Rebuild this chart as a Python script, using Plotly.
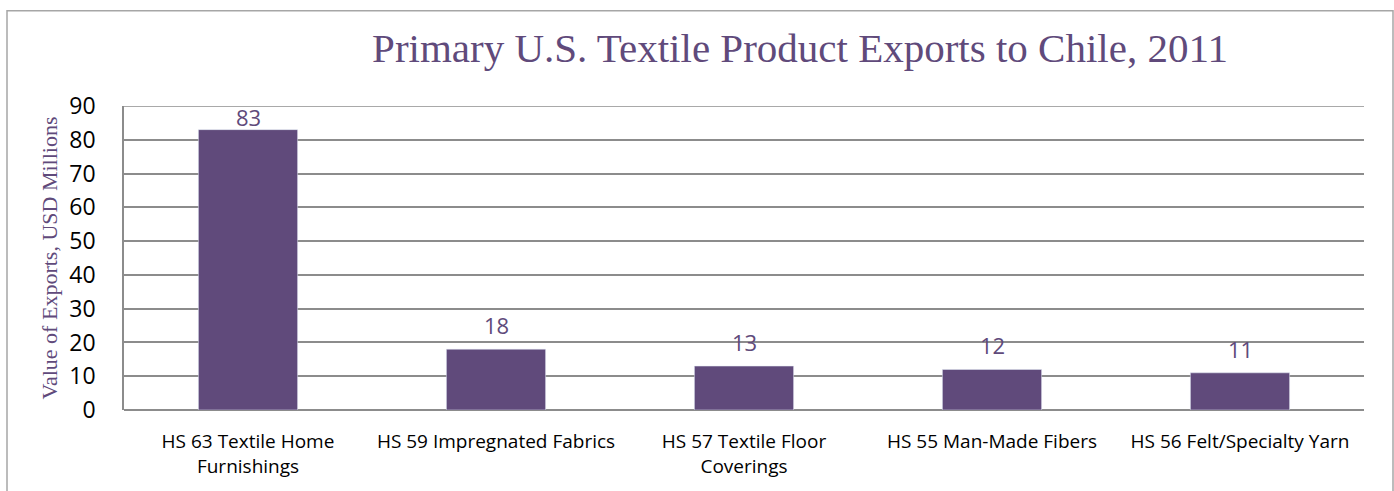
import plotly.graph_objects as go

categories = ["HS 63 Textile Home<br>Furnishings", "HS 59 Impregnated Fabrics",
              "HS 57 Textile Floor<br>Coverings", "HS 55 Man-Made Fibers",
              "HS 56 Felt/Specialty Yarn"]
values = [83, 18, 13, 12, 11]
tick_vals = [0, 10, 20, 30, 40, 50, 60, 70, 80, 90]

purple = "#604a7b"
grid = "#8c8c8c"
sans = "Open Sans, Liberation Sans, sans-serif"
serif = "Liberation Serif, DejaVu Serif, serif"

W, H = 1394, 491
L, R, T, B = 124, 30, 106, 79
pw, ph = W - L - R, H - T - B

fig = go.Figure(go.Bar(
    x=categories, y=values, marker_color=purple, width=0.4,
))

ymax = tick_vals[-1]
for c, v in zip(categories, values):
    # label sits above the bar, but is kept inside the plot area (as Excel does)
    shift = min(7, (1 - v / ymax) * ph - 28)
    fig.add_annotation(x=c, y=v, text=str(v), showarrow=False, yanchor="bottom",
                       yshift=shift, font=dict(family=sans, size=22, color=purple))


def px(x):
    return (x - L) / pw

def py(y):
    return (H - B - y) / ph

fig.update_layout(
    width=W, height=H,
    margin=dict(l=L, r=R, t=T, b=B),
    plot_bgcolor="white", paper_bgcolor="white",
    showlegend=False,
    title=dict(text="Primary U.S. Textile Product Exports to Chile, 2011",
               font=dict(family=serif, size=41, color=purple),
               x=px(800), xref="paper", xanchor="center", y=1 - 48 / H, yanchor="middle"),
    shapes=[dict(type="rect", xref="paper", yref="paper",
                 x0=px(7), x1=px(1393), y0=py(500), y1=py(10),
                 line=dict(color="#a6a6a6", width=1.5), layer="below"),
            dict(type="line", xref="paper", yref="y", x0=0, x1=1,
                 y0=ymax, y1=ymax,
                 line=dict(color=grid, width=1.5), layer="below")],
)
fig.update_xaxes(
    showline=False, showgrid=False, ticks="", ticklabelstandoff=18,
    tickfont=dict(family=sans, size=19, color="black"),
)
fig.update_yaxes(
    range=[0, ymax], tickvals=tick_vals, showgrid=True, gridcolor=grid, gridwidth=1.5,
    showline=True, linecolor=grid, linewidth=1.5, zeroline=True, zerolinecolor=grid,
    zerolinewidth=1.5, ticks="", ticklabelstandoff=22,
    tickfont=dict(family=sans, size=23, color="black"),
    title=dict(text="Value of Exports, USD Millions", standoff=6,
               font=dict(family=serif, size=22, color=purple)),
)

fig.write_html("out.html", config={"displayModeBar": False},
               post_script="document.body.style.margin='0';")
